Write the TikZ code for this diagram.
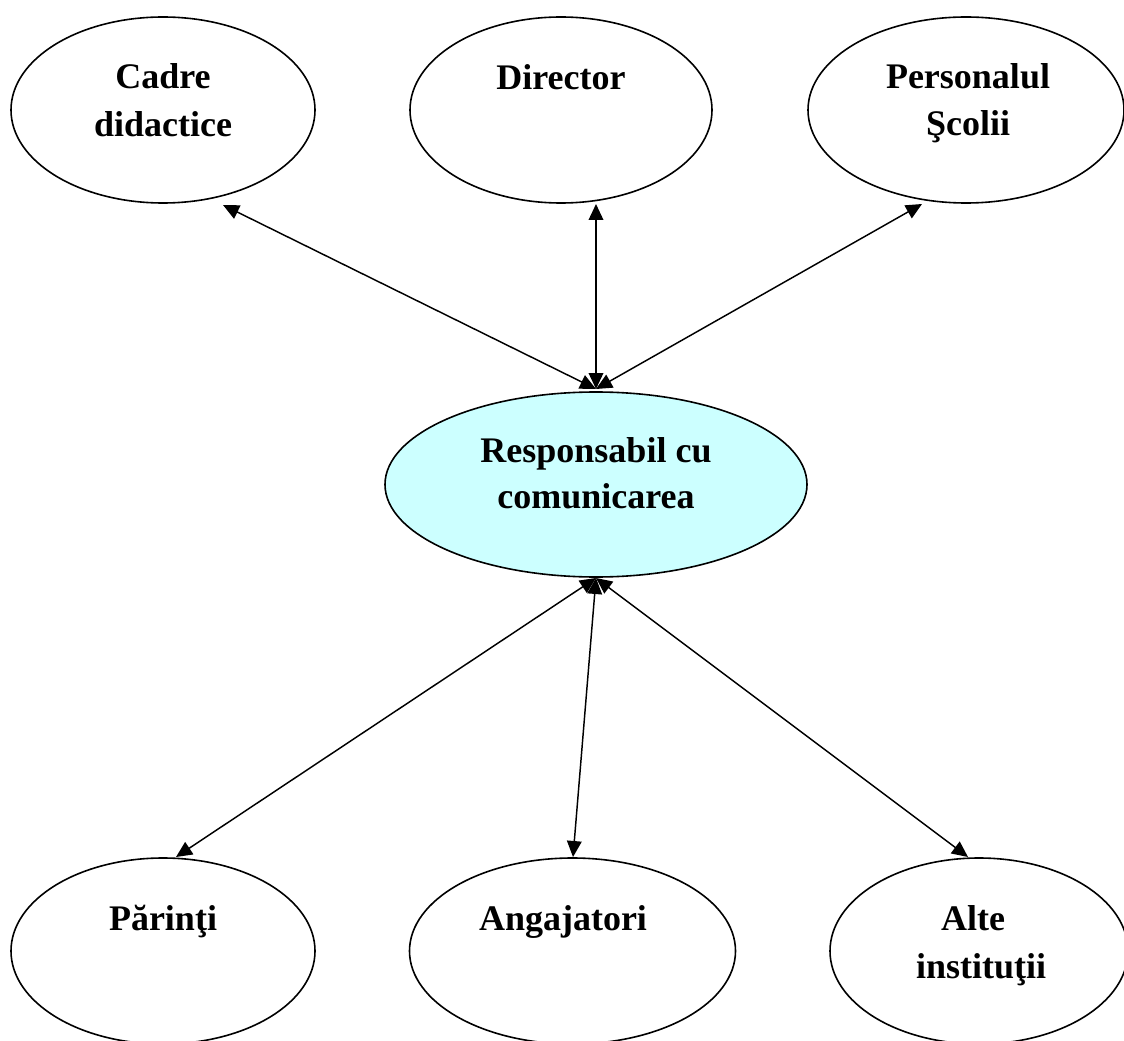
\documentclass[tikz,border=0pt]{standalone}
\usepackage{fontspec}
\setmainfont{Liberation Serif}
\usetikzlibrary{shapes.geometric,arrows.meta}
\definecolor{respfill}{HTML}{CCFFFF}
\tikzset{
  ell/.style={ellipse, draw=black, line width=1.2pt, inner sep=0pt, outer sep=0pt, minimum height=139.5pt},
  lbl/.style={anchor=base, inner sep=0pt, font=\fontsize{27pt}{32pt}\selectfont\bfseries},
  link/.style={line width=1.1pt, {Triangle[length=12pt,width=11pt]}-{Triangle[length=12pt,width=11pt]}}
}
\begin{document}
\begin{tikzpicture}[x=0.75pt,y=-0.75pt]
\useasboundingbox (0,0) rectangle (1124,1041);
\clip (0,0) rectangle (1124,1041);
% ellipses
\node[ell, minimum width=228pt] (cadre) at (163,110) {};
\node[ell, minimum width=226.5pt] (director) at (561,110) {};
\node[ell, minimum width=237pt] (personal) at (966,110) {};
\node[ell, fill=respfill, minimum width=316.5pt, minimum height=138.75pt] (resp) at (596,484.5) {};
\node[ell, minimum width=228pt] (parinti) at (163,951) {};
\node[ell, minimum width=244.5pt] (angaj) at (572.5,951) {};
\node[ell, minimum width=223.5pt] (alte) at (979,951) {};
% labels
\node[lbl] (cadreA) at (163,89) {Cadre};
\node[lbl] (cadreB) at (163,137) {didactice};
\node[lbl] (directorA) at (561,90) {Director};
\node[lbl] (personalA) at (968,89) {Personalul};
\node[lbl] (personalB) at (968,136) {Şcolii};
\node[lbl] (respA) at (596,462) {Responsabil cu};
\node[lbl] (respB) at (596,508) {comunicarea};
\node[lbl] (parintiA) at (163,930) {Părinţi};
\node[lbl] (angajA) at (563,930) {Angajatori};
\node[lbl] (alteA) at (973,930) {Alte};
\node[lbl] (alteB) at (981,978) {instituţii};
% connector ends
\coordinate (tC) at (223,205);
\coordinate (tD) at (596,204);
\coordinate (tP) at (922,204);
\coordinate (rT) at (596,389);
\coordinate (rB) at (596,578);
\coordinate (bPa) at (176,857);
\coordinate (bA) at (573,857);
\coordinate (bAl) at (968,857);
% connectors
\draw[link] (tC) -- (rT);
\draw[link] (tD) -- (rT);
\draw[link] (tP) -- (rT);
\draw[link] (rB) -- (bPa);
\draw[link] (rB) -- (bA);
\draw[link] (rB) -- (bAl);
\end{tikzpicture}
\end{document}
